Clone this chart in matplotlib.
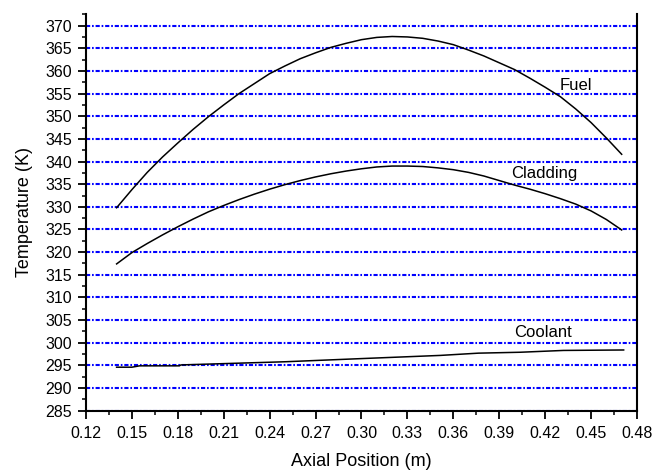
import numpy as np
import matplotlib
matplotlib.use("Agg")
import matplotlib.pyplot as plt
from matplotlib.ticker import MultipleLocator, FormatStrFormatter

plt.rcParams['font.family'] = ['Liberation Sans', 'DejaVu Sans']

# Values (every 0.01 m along the rod)
pos = [0.14, 0.15, 0.16, 0.17, 0.18, 0.19, 0.20, 0.21, 0.22, 0.23, 0.24, 0.25,
       0.26, 0.27, 0.28, 0.29, 0.30, 0.31, 0.32, 0.33, 0.34, 0.35, 0.36, 0.37,
       0.38, 0.39, 0.40, 0.41, 0.42, 0.43, 0.44, 0.45, 0.46, 0.47]
fuel_t = [329.8, 333.8, 337.6, 341.0, 344.1, 347.1, 349.9, 352.5, 355.0, 357.2, 359.4, 361.1,
          362.7, 364.0, 365.2, 366.1, 366.9, 367.4, 367.6, 367.5, 367.2, 366.6, 365.8, 364.6,
          363.3, 361.8, 360.3, 358.4, 356.4, 354.3, 351.6, 348.6, 345.2, 341.6]
clad_t = [317.4, 319.9, 321.9, 323.8, 325.6, 327.3, 328.9, 330.3, 331.6, 332.8, 333.9, 334.9,
          335.8, 336.6, 337.3, 337.9, 338.4, 338.8, 339.0, 339.0, 338.9, 338.6, 338.2, 337.6,
          336.8, 335.8, 334.8, 333.9, 332.9, 331.8, 330.6, 329.1, 327.2, 324.9]

# coolant is drawn as a slightly stepped line in the reference
cool_x = [0.140, 0.150, 0.155, 0.181, 0.182, 0.250, 0.300, 0.3514, 0.3764, 0.4037, 0.432, 0.4713]
cool_t = [294.6, 294.6, 294.9, 294.9, 295.1, 295.8, 296.5, 297.2, 297.7, 297.9, 298.3, 298.4]

curve_labels = ["Fuel", "Cladding", "Coolant"]
label_pos = [(0.4403, 356.7), (0.4197, 337.4), (0.4188, 302.3)]

fig = plt.figure(figsize=(6.56, 4.72), dpi=100)
ax = fig.add_axes([0.1311, 0.1299, 0.8399, 0.8398])

ax.plot(pos, fuel_t, color="black", lw=1.1, zorder=3)
ax.plot(pos, clad_t, color="black", lw=1.1, zorder=3)
ax.plot(cool_x, cool_t, color="black", lw=1.1, zorder=3)

for name, (lx, ly) in zip(curve_labels, label_pos):
    ax.text(lx, ly, name, fontsize=12, ha="center", va="center", zorder=4)

ax.set_xlim(0.12, 0.48)
ax.set_ylim(285, 372.5)
ax.xaxis.set_major_locator(MultipleLocator(0.03))
ax.xaxis.set_minor_locator(MultipleLocator(0.015))
ax.xaxis.set_major_formatter(FormatStrFormatter("%.2f"))
ax.yaxis.set_major_locator(MultipleLocator(5))
ax.yaxis.set_minor_locator(MultipleLocator(2.5))

# dash-dot blue grid at every major y tick
ax.grid(axis="y", which="major", color="#0000ff", lw=1.5, linestyle=(0, (2, 0.9, 0.8, 0.9)), zorder=1)
ax.set_axisbelow(True)

ax.spines["top"].set_visible(False)
for s in ["left", "bottom", "right"]:
    ax.spines[s].set_linewidth(1.5)

ax.tick_params(axis="both", which="major", direction="out", length=6, width=1.3, labelsize=11.5)
ax.tick_params(axis="both", which="minor", direction="out", length=3, width=1.1)
ax.tick_params(axis="x", which="major", pad=5)
ax.tick_params(axis="y", which="major", pad=4)
ax.tick_params(right=False, top=False)

ax.set_xlabel("Axial Position (m)", fontsize=13, labelpad=9)
ax.set_ylabel("Temperature (K)", fontsize=13, labelpad=9)

fig.savefig("out.png", dpi=100)
